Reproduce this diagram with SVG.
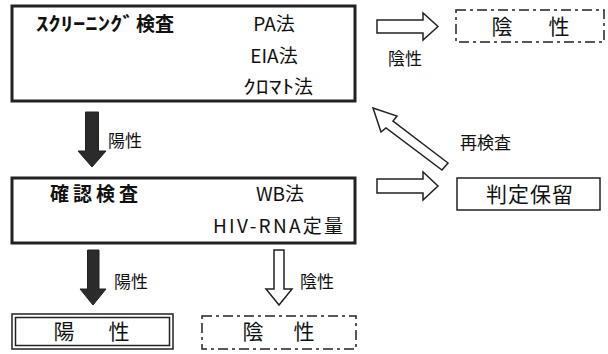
<svg xmlns="http://www.w3.org/2000/svg" width="608" height="354" viewBox="0 0 608 354">
<style>
text{font-family:"Noto Sans CJK JP","Noto Sans",sans-serif;fill:#111}
.box{fill:#fff;stroke:#222;stroke-width:3}
.thin{fill:#fff;stroke:#222;stroke-width:1.5}
.dash{fill:#fff;stroke:#222;stroke-width:1.5;stroke-dasharray:10 4 3 4}
.t{font-size:19px}
.b{font-weight:bold}
.big{font-size:21px}
.lbl{font-size:17px}
.blk{fill:#2b2b2b;stroke:#222;stroke-width:1}
.wht{fill:#fff;stroke:#222;stroke-width:1.5;stroke-linejoin:miter}
</style>
<rect width="608" height="354" fill="#fff"/>
<g id="screening">
<rect class="box" x="12" y="6" width="343" height="95"/>
<text class="t b" transform="translate(36,31) scale(1.3,1)">ｽｸﾘｰﾆﾝｸﾞ</text>
<text class="t b" x="136" y="31">検査</text>
<text class="t" x="274" y="31" text-anchor="middle">PA法</text>
<text class="t" x="274" y="63" text-anchor="middle">EIA法</text>
<text class="t" transform="translate(243,94) scale(1.35,1)">ｸﾛﾏﾄ</text>
<text class="t" x="294" y="94">法</text>
</g>
<g id="confirm">
<rect class="box" x="12" y="178" width="343" height="65"/>
<text class="t b" x="50" y="201" textLength="88" lengthAdjust="spacing">確認検査</text>
<text class="t" x="280" y="201" text-anchor="middle">WB法</text>
<text class="t" x="213" y="233" textLength="130" lengthAdjust="spacing">HIV-RNA定量</text>
</g>
<g id="neg-top">
<rect class="dash" x="456" y="10" width="148" height="32"/>
<text class="big" x="502" y="34" text-anchor="middle">陰</text>
<text class="big" x="559" y="34" text-anchor="middle">性</text>
</g>
<g id="pending">
<rect class="thin" x="457" y="178" width="143" height="32"/>
<text class="big" x="486" y="202" textLength="87" lengthAdjust="spacing">判定保留</text>
</g>
<g id="pos-final">
<rect class="thin" x="12" y="314" width="161" height="35"/>
<rect class="thin" x="15.5" y="317.5" width="154" height="28"/>
<text class="big" x="64" y="339" text-anchor="middle">陽</text>
<text class="big" x="119" y="339" text-anchor="middle">性</text>
</g>
<g id="neg-final">
<rect class="dash" x="202" y="316" width="154" height="33"/>
<text class="big" x="253" y="339" text-anchor="middle">陰</text>
<text class="big" x="304" y="339" text-anchor="middle">性</text>
</g>
<g id="connectors">
<polygon class="blk" points="85.5,112 98.5,112 98.5,151 106,151 92,167 78,151 85.5,151"/>
<text class="lbl" x="108" y="147">陽性</text>
<polygon class="blk" points="87.5,250 99,250 99,289 106,289 93,305 80,289 87.5,289"/>
<text class="lbl" x="114" y="288">陽性</text>
<polygon class="wht" points="274,250 284,250 284,289 292,289 279,305 266,289 274,289"/>
<text class="lbl" x="300" y="288">陰性</text>
<polygon class="wht" points="377,20 423,20 423,13 438,26.5 423,40 423,33 377,33"/>
<text class="lbl" x="388" y="65">陰性</text>
<polygon class="wht" points="377,179 423,179 423,172 438,186 423,200 423,193 377,193"/>
<polygon class="wht" points="373,108 397,116 393,121 448,163 442,170 386,128 381,132"/>
<text class="lbl" x="460" y="149">再検査</text>
</g>
</svg>
